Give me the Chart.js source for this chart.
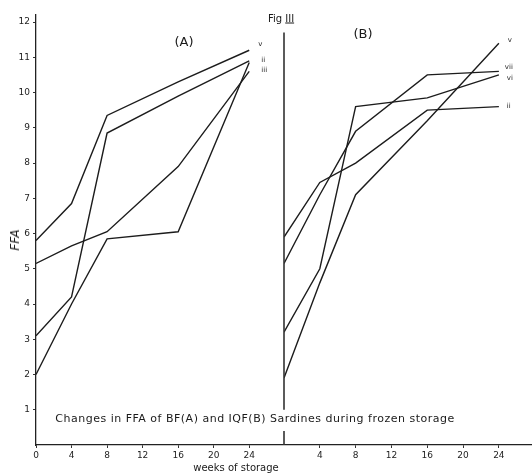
<!DOCTYPE html>
<html><head><meta charset="utf-8">
<script src="https://cdn.jsdelivr.net/npm/chart.js@4.4.0/dist/chart.umd.min.js"></script>
<style>
html,body{margin:0;padding:0;background:#fff;}
#wrap{position:relative;width:532px;height:473px;overflow:hidden;font-family:"DejaVu Sans",sans-serif;color:#1a1a1a;background:#fff;}
#cA{position:absolute;left:0;top:0;}
#cB{position:absolute;left:283px;top:0;}
.t{position:absolute;white-space:nowrap;transform:translate(-50%,-50%);}
</style></head><body>
<div id="wrap">
<canvas id="cA" width="283" height="473"></canvas>
<canvas id="cB" width="249" height="473"></canvas>
<div class="t" style="left:281px;top:18px;font-size:10px;">Fig <u>III</u></div>
<div class="t" style="left:184px;top:41px;font-size:13px;">(A)</div>
<div class="t" style="left:363px;top:33px;font-size:13px;">(B)</div>
<div class="t" style="left:255px;top:418px;font-size:11px;letter-spacing:0.5px;">Changes in FFA of BF(A) and IQF(B) Sardines during frozen storage</div>
<div class="t" style="left:236px;top:467px;font-size:10px;">weeks of storage</div>
<div class="t" style="left:15px;top:240px;font-size:12px;font-style:italic;transform:translate(-50%,-50%) rotate(-90deg);">FFA</div>
</div>
<script>
// Weeks of storage at which FFA was measured
const weeks = [0, 4, 8, 16, 24];
// Axis tick labels
const xTicksA = [0, 4, 8, 12, 16, 20, 24];
const xTicksB = [4, 8, 12, 16, 20, 24];
const yTicks = [1, 2, 3, 4, 5, 6, 7, 8, 9, 10, 11, 12];

// Panel (A) BF sardines
const namesA = ['v', 'ii', 'iii', ''];
const aV   = [5.8, 6.85, 9.35, 10.3, 11.2];
const aII  = [3.1, 4.2, 8.85, 9.9, 10.9];
const aIII = [5.15, 5.65, 6.05, 7.9, 10.6];
const aIV  = [2.0, 4.0, 5.85, 6.05, 10.85];

// Panel (B) IQF sardines
const namesB = ['v', 'vii', 'vi', 'ii'];
const bV   = [1.9, 4.6, 7.1, 9.2, 11.4];
const bVII = [5.15, 7.1, 8.9, 10.5, 10.6];
const bVI  = [3.2, 5.0, 9.6, 9.85, 10.5];
const bII  = [5.9, 7.45, 8.0, 9.5, 9.6];

const ink = '#1c1c1c';
function toXY(vals){ return weeks.map((w,i)=>({x:w, y:vals[i]})); }
function mk(names, arrs){
  return arrs.map((a,i)=>({label:names[i], data:toXY(a), borderColor:ink, borderWidth:1.4,
    pointRadius:0, fill:false, tension:0}));
}

const tagPlugin = {
  id:'tags',
  afterDatasetsDraw(chart, args, opts){
    const ctx = chart.ctx; ctx.save();
    ctx.font = '7px "DejaVu Sans"'; ctx.fillStyle = '#222';
    ctx.textBaseline = 'middle'; ctx.textAlign = 'left';
    chart.data.datasets.forEach((ds,i)=>{
      if(!ds.label) return;
      const meta = chart.getDatasetMeta(i);
      const p = meta.data[meta.data.length-1];
      const o = opts.offsets[i] || [6,0];
      ctx.fillText(ds.label, p.x + o[0], p.y + o[1]);
    });
    // optional partial vertical axis (panel B)
    if (opts.axisRange){
      const y = chart.scales.y, x = chart.chartArea.left;
      ctx.strokeStyle = '#333'; ctx.lineWidth = 1.6;
      ctx.beginPath();
      ctx.moveTo(x, y.getPixelForValue(opts.axisRange[1]));
      ctx.lineTo(x, y.getPixelForValue(opts.axisRange[0]));
      ctx.moveTo(x, y.getPixelForValue(0.4));
      ctx.lineTo(x, y.getPixelForValue(0));
      ctx.stroke();
    }
    ctx.restore();
  }
};

function baseOpts(xMax, xTicks, showY, yWidth, offsets, axisRange){
  return {
    responsive:false, animation:false,
    layout:{padding:{top:15, right:0, left:0, bottom:0}},
    plugins:{legend:{display:false}, tooltip:{enabled:false}, tags:{offsets:offsets, axisRange:axisRange}},
    scales:{
      x:{type:'linear', min:0, max:xMax,
        afterBuildTicks:s=>{ s.ticks = xTicks.map(v=>({value:v})); },
        afterFit:s=>{ s.height = 28; },
        ticks:{color:'#222', font:{family:'DejaVu Sans', size:9}, padding:2, maxRotation:0, autoSkip:false},
        grid:{drawOnChartArea:false, drawTicks:true, tickLength:3, color:'#333', lineWidth:1},
        border:{display:true, color:'#222', width:1.3}
      },
      y:{type:'linear', min:0, max:12.2,
        afterBuildTicks:s=>{ s.ticks = yTicks.map(v=>({value:v})); },
        afterFit:s=>{ s.width = yWidth; },
        ticks:{display:showY, color:'#222', font:{family:'DejaVu Sans', size:9}, padding:3},
        grid:{display:showY, drawOnChartArea:false, drawTicks:showY, tickLength:3, color:'#333'},
        border:{display:showY, color:'#222', width:1.3}
      }
    }
  };
}

new Chart(document.getElementById('cA'), {
  type:'line',
  data:{datasets: mk(namesA, [aV, aII, aIII, aIV])},
  options: baseOpts(27.8, xTicksA, true, 36, [[9,-6],[12,-1],[12,-1]], null),
  plugins:[tagPlugin]
});
new Chart(document.getElementById('cB'), {
  type:'line',
  data:{datasets: mk(namesB, [bV, bVII, bVI, bII])},
  options: baseOpts(27.7, xTicksB, false, 1, [[9,-3],[6,-4],[8,3],[8,0]], [1.0, 11.7]),
  plugins:[tagPlugin]
});
</script>
</body></html>
